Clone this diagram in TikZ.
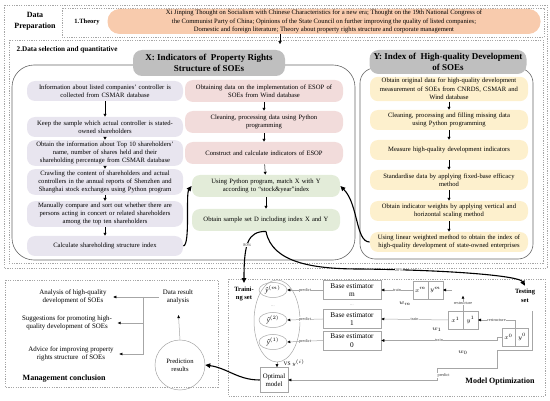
\documentclass[tikz,border=0pt]{standalone}
\usepackage{fontspec}
\setmainfont{Liberation Serif}
\usepackage{tikz}
\usetikzlibrary{arrows.meta, shapes.geometric, positioning}

\definecolor{theorybg}{RGB}{248,203,173}
\definecolor{xlav}{RGB}{232,229,239}
\definecolor{xpink}{RGB}{242,220,219}
\definecolor{xgreen}{RGB}{227,236,217}
\definecolor{yyell}{RGB}{253,240,205}
\definecolor{headgray}{RGB}{191,191,191}

\newcommand{\bodyfont}{\fontsize{6.6}{8.3}\selectfont}
\newcommand{\titlefont}{\bfseries\fontsize{8}{10}\selectfont}
\newcommand{\headfont}{\bfseries\fontsize{9}{11}\selectfont}
\newcommand{\tagfont}{\fontsize{4.3}{5}\selectfont}
\newcommand{\mathsz}{\fontsize{6.5}{7}\selectfont}
\newcommand{\yhatof}[1]{{\itshape ŷ}$^{(#1)}$}

\begin{document}
\begin{tikzpicture}[x=1pt, y=-1pt, thick,
    stepbox/.style={rounded corners=8pt, align=center, font=\bodyfont, inner xsep=3pt, inner ysep=1.5pt, minimum height=20pt},
    lavbox/.style={stepbox, fill=xlav, text width=150pt},
    pinkbox/.style={stepbox, fill=xpink, text width=152pt, minimum height=22pt},
    greenbox/.style={stepbox, fill=xgreen, text width=142pt, minimum height=22pt},
    yellbox/.style={stepbox, fill=yyell, text width=152pt},
    headbox/.style={fill=headgray, rounded corners=9pt, align=center, font=\headfont, inner sep=1pt},
    frame/.style={draw=gray!70, line width=0.4pt, dash pattern=on 1.2pt off 1.2pt},
    holder/.style={draw=gray!80!black, line width=0.6pt},
    sarr/.style={-{Triangle[length=2.8pt, width=3pt]}, line width=0.5pt},
    bigarr/.style={-{Triangle[length=5pt, width=4.5pt]}, line width=1.1pt},
    garr/.style={draw=gray!70, line width=0.5pt, -{Triangle[length=3pt, width=2.6pt, color=black]}},
    tag/.style={font=\tagfont, fill=white, inner sep=0.4pt, text=gray!50!black},
    est/.style={draw=gray!70, line width=0.5pt, align=center, font=\fontsize{7.3}{8.3}\selectfont, minimum width=58pt, minimum height=19pt, inner sep=1pt},
    cell/.style={draw=gray!70, line width=0.5pt, font=\mathsz, minimum height=18pt, minimum width=14.5pt, inner sep=0pt},
    yhat/.style={ellipse, draw=gray!70, line width=0.5pt, minimum width=28pt, minimum height=15pt, inner sep=0pt, font=\fontsize{7}{7.5}\selectfont},
    mtext/.style={align=center, font=\fontsize{6.9}{8.5}\selectfont},
    boldlbl/.style={font=\bfseries\fontsize{6.5}{8.5}\selectfont, align=center}]
    \useasboundingbox (0, 0) rectangle (550, 401);

    \draw[frame] (4, 5) rectangle (547, 268);
    \draw[frame] (62, 8) rectangle (544, 37);
    \draw[frame] (9, 40) rectangle (543, 263);
    \draw[holder, rounded corners=22pt] (12, 65) rectangle (355, 260);
    \draw[holder, rounded corners=15pt] (360, 68) rectangle (533, 259);

    \node[font=\bfseries\fontsize{8}{10.5}\selectfont, align=center] at (35, 21) (prep) {Data\\Preparation};
    \node[boldlbl] at (87, 22) (theorylbl) {1.Theory};
    \node[fill=theorybg, rounded corners=12pt, minimum width=433pt, minimum height=25pt, inner sep=1pt, align=center, font=\bodyfont] at (324, 21.5) (theory) {Xi Jinping Thought on Socialism with Chinese Characteristics for a new era; Thought on the 19th National Congress of\\the Communist Party of China; Opinions of the State Council on further improving the quality of listed companies;\\Domestic and foreign literature; Theory about property rights structure and corporate management};
    \node[font=\bfseries\fontsize{7.2}{8.5}\selectfont, anchor=west] at (13, 50) (sellbl) {2.Data selection and quantitative};
    \coordinate (selin) at (280, 44);
    \draw[sarr] (theory.south -| selin) -- (selin);

    \node[headbox, minimum width=152pt, minimum height=26pt] at (209, 63) (xhead) {X: Indicators of\ \ Property Rights\\Structure of SOEs};
    \node[headbox, minimum width=157pt, minimum height=24pt] at (448, 62) (yhead) {Y: Index of\ \ High-quality Development\\of SOEs};

    \node[lavbox] at (105, 91) (c1) {Information about listed companies' controller is\\collected from CSMAR database};
    \node[lavbox] at (105, 127) (c2) {Keep the sample which actual controller is stated-\\owned shareholders};
    \node[lavbox] at (105, 153) (c3) {Obtain the information about Top 10 shareholders'\\name, number of shares held and their\\shareholding percentage from CSMAR database};
    \node[lavbox] at (105, 182) (c4) {Crawling the content of shareholders and actual\\controllers in the annual reports of Shenzhen and\\Shanghai stock exchanges using Python program};
    \node[lavbox] at (105, 214) (c5) {Manually compare and sort out whether there are\\persons acting in concert or related shareholders\\among the top ten shareholders};
    \node[lavbox] at (105, 246) (c6) {Calculate shareholding structure index};

    \node[pinkbox] at (264, 91) (p1) {Obtaining data on the implementation of ESOP of\\SOEs from Wind database};
    \node[pinkbox] at (264, 122) (p2) {Cleaning, processing data using Python\\programming};
    \node[pinkbox] at (264, 153) (p3) {Construct and calculate indicators of ESOP};
    \node[greenbox] at (266, 186) (g1) {Using Python program, match X with Y\\according to ``stock\&year''index};
    \node[greenbox] at (266, 220) (g2) {Obtain sample set D including index X and Y};

    \node[yellbox] at (449, 89) (y1) {Obtain original data for high-quality development\\measurement of SOEs from CNRDS, CSMAR and\\Wind database};
    \node[yellbox] at (449, 120) (y2) {Cleaning, processing and filling missing data\\using Python programming};
    \node[yellbox] at (449, 150) (y3) {Measure high-quality development indicators};
    \node[yellbox] at (449, 180) (y4) {Standardise data by applying fixed-base efficacy\\method};
    \node[yellbox] at (449, 211) (y5) {Obtain indicator weights by applying vertical and\\horizontal scaling method};
    \node[yellbox] at (449, 242) (y6) {Using linear weighted method to obtain the index of\\high-quality development of state-owned enterprises};

    \draw[sarr] (c1) -- (c2);
    \draw[sarr] (c2) -- (c3);
    \draw[sarr] (c3) -- (c4);
    \draw[sarr] (c4) -- (c5);
    \draw[sarr] (c5) -- (c6);
    \draw[sarr] (p1) -- (p2);
    \draw[sarr] (p2) -- (p3);
    \draw[sarr] (p3) -- (g1);
    \draw[sarr] (g1) -- (g2);
    \draw[sarr] (y1) -- (y2);
    \draw[sarr] (y2) -- (y3);
    \draw[sarr] (y3) -- (y4);
    \draw[sarr] (y4) -- (y5);
    \draw[sarr] (y5) -- (y6);
    \draw[bigarr] (c6.east) .. controls +(7, -1) and +(-6, 8) .. (g1.west);
    \draw[bigarr] (y6.west) .. controls +(-14, 0) and +(18, 18) .. (g1.east);

    \draw[frame] (5, 280) rectangle (218, 387);
    \draw[frame] (228, 279) rectangle (545, 396);

    \node[mtext] at (73, 297) (ana) {Analysis of high-quality\\development of SOEs};
    \node[mtext] at (67, 323) (sug) {Suggestions for promoting high-\\quality development of SOEs};
    \node[mtext] at (71, 354) (adv) {Advice for improving property\\rights structure\ \ of SOEs};
    \node[mtext] at (178, 297) (dra) {Data result\\analysis};
    \node[circle, draw=gray!70, line width=0.5pt, minimum size=50pt, align=center, font=\fontsize{6.6}{8.3}\selectfont] at (180, 365) (pred) {Prediction\\results};
    \node[font=\titlefont, anchor=west] at (19, 379) (mconc) {Management conclusion};
    \draw[draw=gray!70, line width=0.5pt] (dra.west) -- ++(-16, 0) coordinate (br);
    \draw[garr, shorten >=3pt] (br) -- (ana.east);
    \draw[garr, shorten >=2pt] (br) |- (sug.east);
    \draw[garr, shorten >=2pt] (br) |- (adv.east);
    \draw[garr, shorten >=7pt] (pred.north) -- (dra.south);

    \node[boldlbl] at (244, 294) (trainset) {Traini-\\ng set};
    \node[boldlbl] at (525, 296) (testset) {Testing\\set};
    \coordinate (mid20) at (360, 269);
    \draw[bigarr] (g2.south) .. controls +(-18, 0) and +(0, -40) .. node[tag, pos=.55] {80\%} (trainset.north);
    \draw[bigarr] (g2.south) .. controls +(6, 32) and +(-45, 0) .. (mid20) .. controls +(90, 1) and +(-6, -10) .. node[tag, pos=.15] {20\%} (testset.north);

    \draw[draw=gray!70, line width=0.5pt] (277, 321) ellipse [x radius=23, y radius=41];
    \coordinate (tsbot) at (277, 362);
    \node[yhat] at (273, 290) (ym) {\yhatof{m}};
    \node[font=\tagfont, text=gray] at (273, 306) (ydots) {...};
    \node[yhat] at (273, 320) (y2hat) {\yhatof{2}};
    \node[yhat] at (273, 342) (y1hat) {\yhatof{1}};

    \node[est] at (352, 290) (bm) {Base estimator\\m};
    \node[font=\tagfont, text=gray] at (352, 305) (bdots) {...};
    \node[est] at (352, 319) (b1) {Base estimator\\1};
    \node[est] at (352, 340.5) (b0) {Base estimator\\0};
    \draw[garr] (bm.west) -- node[tag] {predict} (ym.east);
    \draw[garr] (b1.west) -- node[tag] {predict} (y2hat.east);
    \draw[garr] (b0.west) -- node[tag] {predict} (y1hat.east);

    \node[cell] at (420.5, 290) (xm) {$x^{m}$};
    \node[cell, right=0pt of xm] (yym) {$y^{m}$};
    \node[cell] at (455.5, 320) (x1) {$x^{1}$};
    \node[cell, right=0pt of x1] (yy1) {$y^{1}$};
    \node[cell, minimum width=13pt] at (508.5, 337) (x0) {$x^{0}$};
    \node[cell, minimum width=13pt, right=0pt of x0] (yy0) {$y^{0}$};
    \draw[garr] (xm.west) -- node[tag] {train} (bm.east);
    \draw[garr] (x1.west) -- node[tag] {train} (b1.east);
    \draw[garr] (x0.west) -- ++(-5, 0) |- node[tag, pos=.75] {train} (b0.east);
    \node[font=\mathsz] at (405, 304) (wm) {$w_m$};
    \node[font=\mathsz] at (437, 330) (w1) {$w_1$};
    \node[font=\mathsz] at (463, 353) (w0) {$w_0$};

    \coordinate[right=9pt of yym.east] (rsin);
    \coordinate[above=15pt of x1.north east] (rsup);
    \draw[garr] (rsin) -- (yym.east);
    \draw[garr] (x1.north east) -- node[tag, pos=.5] {restructure} (rsup);
    \draw[garr] (yy0.north west) |- node[tag, pos=.75] {restructure} (yy1.east);

    \node[draw=gray!70, line width=0.5pt, align=center, font=\fontsize{6.8}{8.5}\selectfont, minimum width=28pt, minimum height=25pt, inner sep=1pt] at (274, 380) (opt) {Optimal\\model};
    \draw[garr] (tsbot) -- (tsbot |- opt.north);
    \node[font=\fontsize{5.5}{6}\selectfont, anchor=west] at (280, 363) (vs) {VS $y^{(i)}$};
    \coordinate (tsout) at (532, 311);
    \draw[garr] (tsout) |- (497, 350) |- (437, 368) |- node[tag, pos=.3, right] {predict} (opt.east);
    \draw[bigarr] (opt.west) .. controls +(-22, 0) and +(22, 3) .. (pred.east);
    \node[font=\titlefont] at (500, 382) (mopt) {Model Optimization};
\end{tikzpicture}
\end{document}
